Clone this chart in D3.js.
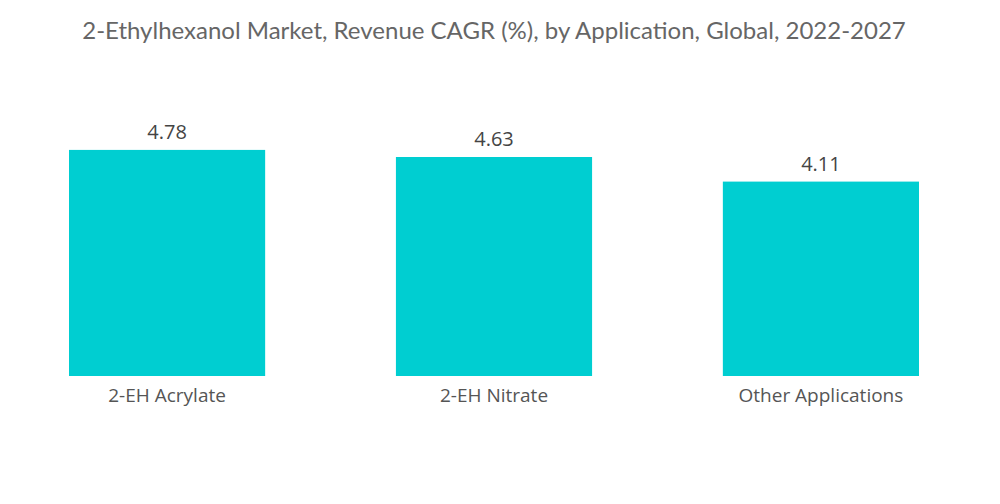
<!DOCTYPE html>
<html>
<head>
<meta charset="utf-8">
<script src="https://cdn.jsdelivr.net/npm/d3@7"></script>
<style>
    body { margin: 0; background: #fff; }
    svg { display: block; }
    .title { font-family: Lato, "Open Sans", sans-serif; font-size: 24px; fill: #666; }
    .value { font-family: "Open Sans", sans-serif; font-size: 20px; fill: #444; }
    .axis text { font-family: "Open Sans", sans-serif; font-size: 19px; fill: #555; }
</style>
</head>
<body>
<svg width="1000" height="504"></svg>
<script>
let categories = ['2-EH Acrylate', '2-EH Nitrate', 'Other Applications'];
let values = [4.78, 4.63, 4.11];

let svg = d3.select('svg'),
    baseline = 376,
    x = d3.scaleBand()
        .domain(categories)
        .range([69, 919])
        .paddingInner(0.4)
        .paddingOuter(0),
    y = d3.scaleLinear()
        .domain([0, 5])
        .range([baseline, baseline - 5 * 47.3]);

svg.append('text')
    .attr('class', 'title')
    .attr('x', 494)
    .attr('y', 39)
    .attr('text-anchor', 'middle')
    .text('2-Ethylhexanol Market, Revenue CAGR (%), by Application, Global, 2022-2027');

let data = categories.map((c, i) => [c, values[i]]);

svg.selectAll('rect.bar').data(data)
    .enter().append('rect')
    .attr('class', 'bar')
    .attr('fill', '#00CED1')
    .attr('x', d => x(d[0]))
    .attr('width', x.bandwidth())
    .attr('y', d => y(d[1]))
    .attr('height', d => y(0) - y(d[1]));

svg.selectAll('text.value').data(data)
    .enter().append('text')
    .attr('class', 'value')
    .attr('text-anchor', 'middle')
    .attr('x', d => x(d[0]) + x.bandwidth() / 2)
    .attr('y', d => y(d[1]) - 11)
    .text(d => d[1].toFixed(2));

let axis = svg.append('g')
    .attr('class', 'axis')
    .attr('transform', `translate(0, ${baseline})`)
    .call(d3.axisBottom(x).tickSize(0).tickPadding(13));
axis.select('.domain').remove();
axis.selectAll('text').attr('dy', '0.71em');
</script>
</body>
</html>
